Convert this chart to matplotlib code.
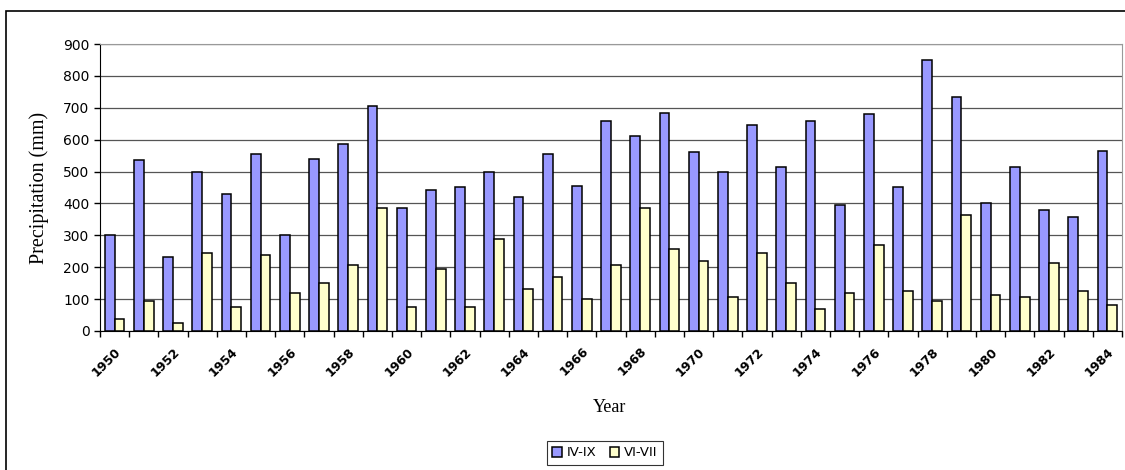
import numpy as np
import matplotlib
matplotlib.use('Agg')
import matplotlib.pyplot as plt
from matplotlib.patches import Rectangle

# data
years = list(range(1950, 1985))
iv_ix = [300, 537, 231, 500, 431, 556, 301, 540, 585, 705,
         387, 443, 451, 500, 419, 555, 456, 660, 610, 685,
         560, 500, 645, 515, 660, 394, 680, 451, 850, 735,
         400, 515, 381, 356, 565]
vi_vii = [37, 95, 25, 245, 75, 237, 119, 150, 206, 387,
          75, 195, 75, 287, 131, 170, 101, 206, 387, 256,
          220, 106, 245, 150, 69, 119, 269, 125, 95, 363,
          112, 106, 212, 125, 81]
series_names = ['IV-IX', 'VI-VII']

W, H = 1125, 470
fig = plt.figure(figsize=(W / 100, H / 100), dpi=100)
ax = fig.add_axes([100 / W, 1 - 331 / H, 1022 / W, 287 / H])

x = np.arange(len(years))
bw = 1 / 3.
ax.bar(x - bw / 2, iv_ix, bw, color='#9999FF', edgecolor='black', linewidth=1.1,
       label=series_names[0], zorder=3)
ax.bar(x + bw / 2, vi_vii, bw, color='#FFFFCC', edgecolor='black', linewidth=1.1,
       label=series_names[1], zorder=3)

ax.set_xlim(-0.5, len(years) - 0.5)
ax.set_ylim(0, 900)
ax.set_yticks(range(0, 901, 100))
ax.yaxis.grid(True, color='#555555', linewidth=0.9, zorder=0)
ax.tick_params(axis='y', labelsize=10, length=4, width=1)

# Excel style: ticks between categories, labels every other year
ax.set_xticks(np.arange(-0.5, len(years), 1))
ax.set_xticklabels([])
ax.tick_params(axis='x', which='major', length=4, width=1)
ax.set_xticks(x[::2], minor=True)
ax.set_xticklabels([str(y) for y in years[::2]], minor=True, rotation=45,
                   ha='right', rotation_mode='anchor', fontsize=9,
                   fontweight='bold')
ax.tick_params(axis='x', which='minor', length=0, pad=10)

for s in ['top', 'right']:
    ax.spines[s].set_color('#999999')
for s in ['left', 'bottom']:
    ax.spines[s].set_color('black')

ax.set_ylabel('Precipitation (mm)', family='Liberation Serif',
              fontsize=14.5, labelpad=10)
fig.text(610 / W, 1 - 408 / H, 'Year', family='Liberation Serif', fontsize=13,
         ha='center', va='center')

leg = fig.legend(loc='center', bbox_to_anchor=(605 / W, 1 - 453 / H), ncol=2,
                 fontsize=9.5, frameon=True, fancybox=False, edgecolor='black',
                 handlelength=0.7, handleheight=0.7, handletextpad=0.4,
                 columnspacing=1.0, borderpad=0.4)
leg.get_frame().set_linewidth(0.8)

# outer chart border
fig.patches.append(Rectangle((6 / W, -0.1), 1.2, 1 - 11 / H + 0.1,
                             transform=fig.transFigure, fill=False,
                             edgecolor='black', linewidth=1.2))

fig.savefig('out.png', dpi=100)
